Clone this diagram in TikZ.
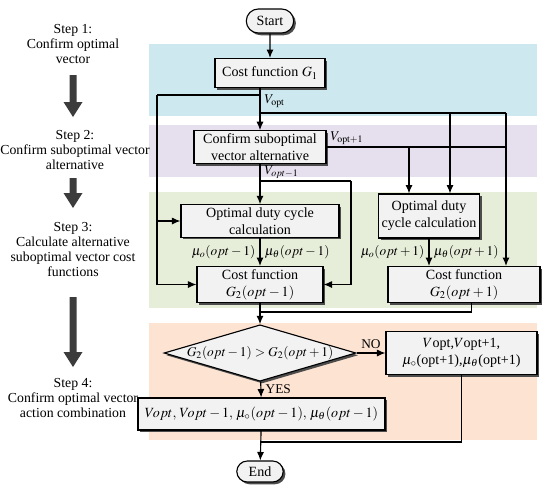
\documentclass[tikz,border=0pt]{standalone}
\usepackage{mathptmx}
\usepackage{fontspec}
\setmainfont{Liberation Serif}
\usepackage{tikz}
\usetikzlibrary{shapes,arrows.meta}
\usetikzlibrary{shadows}
\definecolor{bandblue}{HTML}{CDE8EE}
\definecolor{bandpurple}{HTML}{E6E0EE}
\definecolor{bandgreen}{HTML}{E6EDD9}
\definecolor{bandorange}{HTML}{FDE3D2}
\definecolor{boxgray}{HTML}{F2F2F2}
\definecolor{arrowgray}{HTML}{3C3C3C}
\tikzstyle{procblock} = [rectangle, draw, fill=boxgray, line width=0.8pt, align=center,
    inner sep=2pt, font=\fontsize{10}{12}\selectfont,
    drop shadow={shadow xshift=1.6pt, shadow yshift=-1.6pt, fill=black!70, opacity=1}]
\tikzstyle{termblock} = [procblock, rounded rectangle]
\tikzstyle{decblock} = [procblock, diamond, aspect=3.4, inner sep=0pt,
    font=\fontsize{9.5}{11}\selectfont]
\tikzstyle{steptext} = [align=center, font=\fontsize{9.8}{10.7}\selectfont]
\tikzstyle{lbl} = [font=\fontsize{9.5}{11}\selectfont, inner sep=3pt]
\tikzstyle{wire} = [draw, line width=0.8pt]
\tikzstyle{line} = [draw, line width=0.8pt, -{Latex[length=6pt, width=5pt]}]

\begin{document}
\begin{tikzpicture}[x=0.025cm, y=-0.025cm]
    \useasboundingbox (0,0) rectangle (550,495);
    % Coloured step bands
    \fill[bandblue] (149,44) rectangle (537,116);
    \fill[bandpurple] (149,125) rectangle (537,177);
    \fill[bandgreen] (149,192) rectangle (537,308);
    \fill[bandorange] (149,323) rectangle (537,440);

    % Step descriptions
    \node [steptext] (step1) at (73,44) {Step 1:\\ Confirm optimal\\ vector};
    \node [steptext] (step2) at (75,150) {Step 2:\\ Confirm suboptimal vector\\ alternative};
    \node [steptext] (step3) at (73,249.5) {Step 3:\\ Calculate alternative\\ suboptimal vector cost\\ functions};
    \node [steptext] (step4) at (73,398) {Step 4:\\ Confirm optimal vector\\ action combination};
    \foreach \ya/\yb in {75/117, 178/208, 297/367}
        \fill[arrowgray] (69.5,\ya) -- (76.5,\ya) -- (76.5,\yb-15) -- (82.5,\yb-15)
            -- (73,\yb) -- (63.5,\yb-15) -- (69.5,\yb-15) -- cycle;

    % Flowchart blocks
    \node [termblock, minimum width=1.325cm, minimum height=0.6cm] (start) at (270,21) {Start};
    \node [procblock, minimum width=2.75cm, minimum height=0.725cm] (g1) at (270,73) {Cost function $G_1$};
    \node [procblock, minimum width=3.3cm, minimum height=0.75cm] (sub) at (260,147) {Confirm suboptimal\\ vector alternative};
    \node [procblock, minimum width=3.95cm, minimum height=0.8cm] (dutyL) at (260,221) {Optimal duty cycle\\ calculation};
    \node [procblock, minimum width=2.45cm, minimum height=1.1cm] (dutyR) at (429,216) {Optimal duty\\ cycle calculation};
    \node [procblock, minimum width=3.15cm, minimum height=0.825cm] (costL) at (260,284.5) {Cost function\\ $G_2(opt-1)$};
    \node [procblock, minimum width=3.8cm, minimum height=0.825cm] (costR) at (464,284.5) {Cost function\\ $G_2(opt+1)$};
    \node [decblock, minimum width=4.325cm, minimum height=1.275cm] (dec) at (260,353) {$G_2(opt-1)>G_2(opt+1)$};
    \node [procblock, minimum width=3.775cm, minimum height=1.075cm] (res) at (461.5,353) {$V$opt,$V$opt+1,\\ $\mu_{\circ}$(opt+1),$\mu_{\theta}$(opt+1)};
    \node [procblock, minimum width=6.175cm, minimum height=0.8cm] (bot) at (261.5,414) {$Vopt,\,Vopt-1,\,\mu_{\circ}(opt-1),\,\mu_{\theta}(opt-1)$};
    \node [termblock, minimum width=1.3cm, minimum height=0.525cm] (end) at (260,471.5) {End};

    % Rails and junctions
    \coordinate (railL) at (157,95);
    \coordinate (railR) at (506,113);
    \coordinate (dropA) at (409,147);
    \coordinate (dropB) at (450,113);
    \coordinate (loopM) at (351,181);
    \coordinate (joinA) at (260,312);
    \coordinate (joinB) at (260,442);

    % Draw edges
    \path[line] (start) -- (g1);
    \path[line] (g1.south -| sub.north) -- (sub.north);
    \path[wire] (sub.north |- railL) -- (railL);
    \path[line] (railL) |- (costL);
    \path[line] (railL |- dutyL) -- (dutyL);
    \path[wire] (sub.north |- railR) -- (railR);
    \path[line] (railR) -- (railR |- costR.north);
    \path[line] (dropB) -- (dropB |- dutyR.north);
    \path[wire] (sub.east) -- (sub.east -| railR);
    \path[line] (dropA) -- (dropA |- dutyR.north);
    \path[line] (sub) -- (dutyL);
    \path[wire] (sub.south |- loopM) -- (loopM);
    \path[line] (loopM) |- (costL);
    \path[line] (dutyL) -- node[lbl, left] {$\mu_o(opt-1)$} node[lbl, right] {$\mu_{\theta}(opt-1)$} (costL);
    \path[line] (dutyR.south) -- node[lbl, left] {$\mu_o(opt+1)$} node[lbl, right] {$\mu_{\theta}(opt+1)$} (dutyR.south |- costR.north);
    \path[wire] ([xshift=0.18cm]costR.south) |- (joinA);
    \path[line] (costL) -- (dec);
    \path[line] (dec) -- node[lbl, above] {NO} (res);
    \path[line] (dec) -- node[lbl, right] {YES} (bot);
    \path[wire] (res.south) |- (joinB);
    \path[line] (bot) -- (end);

    % Vector labels
    \node [lbl, anchor=west] (vopt) at (260,101) {$V_{\mathrm{opt}}$};
    \node [lbl, anchor=west] (vplus) at (326,138) {$V_{\mathrm{opt+1}}$};
    \node [lbl, anchor=west] (vminus) at (260,172) {$V_{opt-1}$};
\end{tikzpicture}
\end{document}
